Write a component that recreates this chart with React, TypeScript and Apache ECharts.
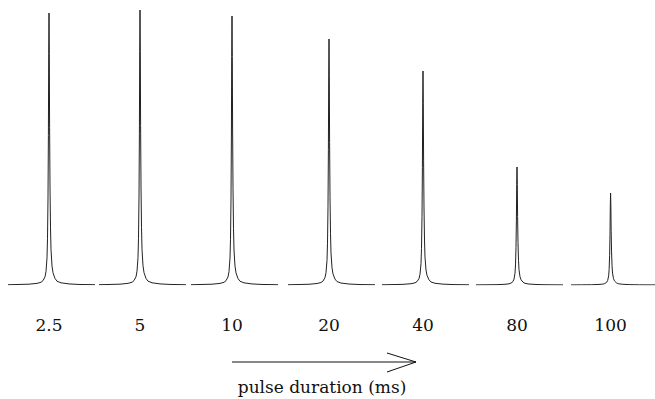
import React, { useEffect, useRef } from "react";
import * as echarts from "echarts";

// pulse durations (ms) – one spectrum per duration
const durations = ["2.5", "5", "10", "20", "40", "80", "100"];
// peak heights (arbitrary intensity units)
const peakHeights = [272, 275, 269, 246, 214, 118, 92];
// common line shape of a single resonance: frequency offset and relative intensity
const shapeOffsets = [-41, -30, -20, -12, -8, -6, -4, -3, -2, -1.5, -1, -0.6, -0.3, 0, 0.3, 0.6, 1, 1.5, 2, 3, 4, 6, 8, 12, 20, 30, 46];
const shapeRel = [0.001, 0.002, 0.003, 0.006, 0.01, 0.016, 0.03, 0.05, 0.1, 0.17, 0.32, 0.55, 0.85, 1, 0.85, 0.58, 0.36, 0.21, 0.13, 0.07, 0.045, 0.024, 0.014, 0.008, 0.004, 0.002, 0.001];
const axisTitle = "pulse duration (ms)";

const SERIF = "DejaVu Serif";

export default function App() {
  const ref = useRef<HTMLDivElement>(null);
  useEffect(() => {
    if (!ref.current) return;
    const chart = echarts.init(ref.current, null, { renderer: "svg" });
    const peakX = [49, 140, 232, 329, 423, 517, 612];
    const grids = durations.map((_, i) => ({
      left: peakX[i] - 41,
      width: 87,
      top: 10,
      height: 275,
    }));
    const xAxes = durations.map((d, i) => ({
      type: "value" as const,
      gridIndex: i,
      min: -41,
      max: 46,
      interval: 41,
      axisLine: { show: false },
      axisTick: { show: false },
      splitLine: { show: false },
      axisLabel: {
        showMaxLabel: false,
        showMinLabel: false,
        margin: 31,
        fontFamily: SERIF,
        fontSize: 17,
        color: "#111",
        formatter: (v: number) => (v === 0 ? d : ""),
      },
    }));
    const yAxes = durations.map((_, i) => ({
      type: "value" as const,
      gridIndex: i,
      min: 0,
      max: 275,
      show: false,
    }));
    const series = durations.map((d, i) => ({
      type: "line" as const,
      name: d,
      xAxisIndex: i,
      yAxisIndex: i,
      showSymbol: false,
      symbol: "none",
      smooth: false,
      lineStyle: { color: "#222", width: 1 },
      data: shapeOffsets.map((o, k) => [o, shapeRel[k] * peakHeights[i]]),
    }));
    chart.setOption({
      animation: false,
      backgroundColor: "#fff",
      grid: grids,
      xAxis: xAxes,
      yAxis: yAxes,
      series,
      graphic: [
        {
          type: "line",
          shape: { x1: 232, y1: 362, x2: 416, y2: 362 },
          style: { stroke: "#111", lineWidth: 1 },
        },
        {
          type: "polyline",
          shape: { points: [[387, 353], [416, 362], [387, 372]] },
          style: { stroke: "#111", lineWidth: 1, fill: "none" },
        },
        {
          type: "text",
          x: 322,
          y: 387,
          style: {
            text: axisTitle,
            fontFamily: SERIF,
            fontSize: 17,
            fill: "#111",
            textAlign: "center",
            textVerticalAlign: "middle",
          },
        },
      ],
    });
    return () => chart.dispose();
  }, []);
  return (
    <div
      ref={ref}
      style={{ position: "fixed", left: 0, top: 0, width: 655, height: 399 }}
    />
  );
}
